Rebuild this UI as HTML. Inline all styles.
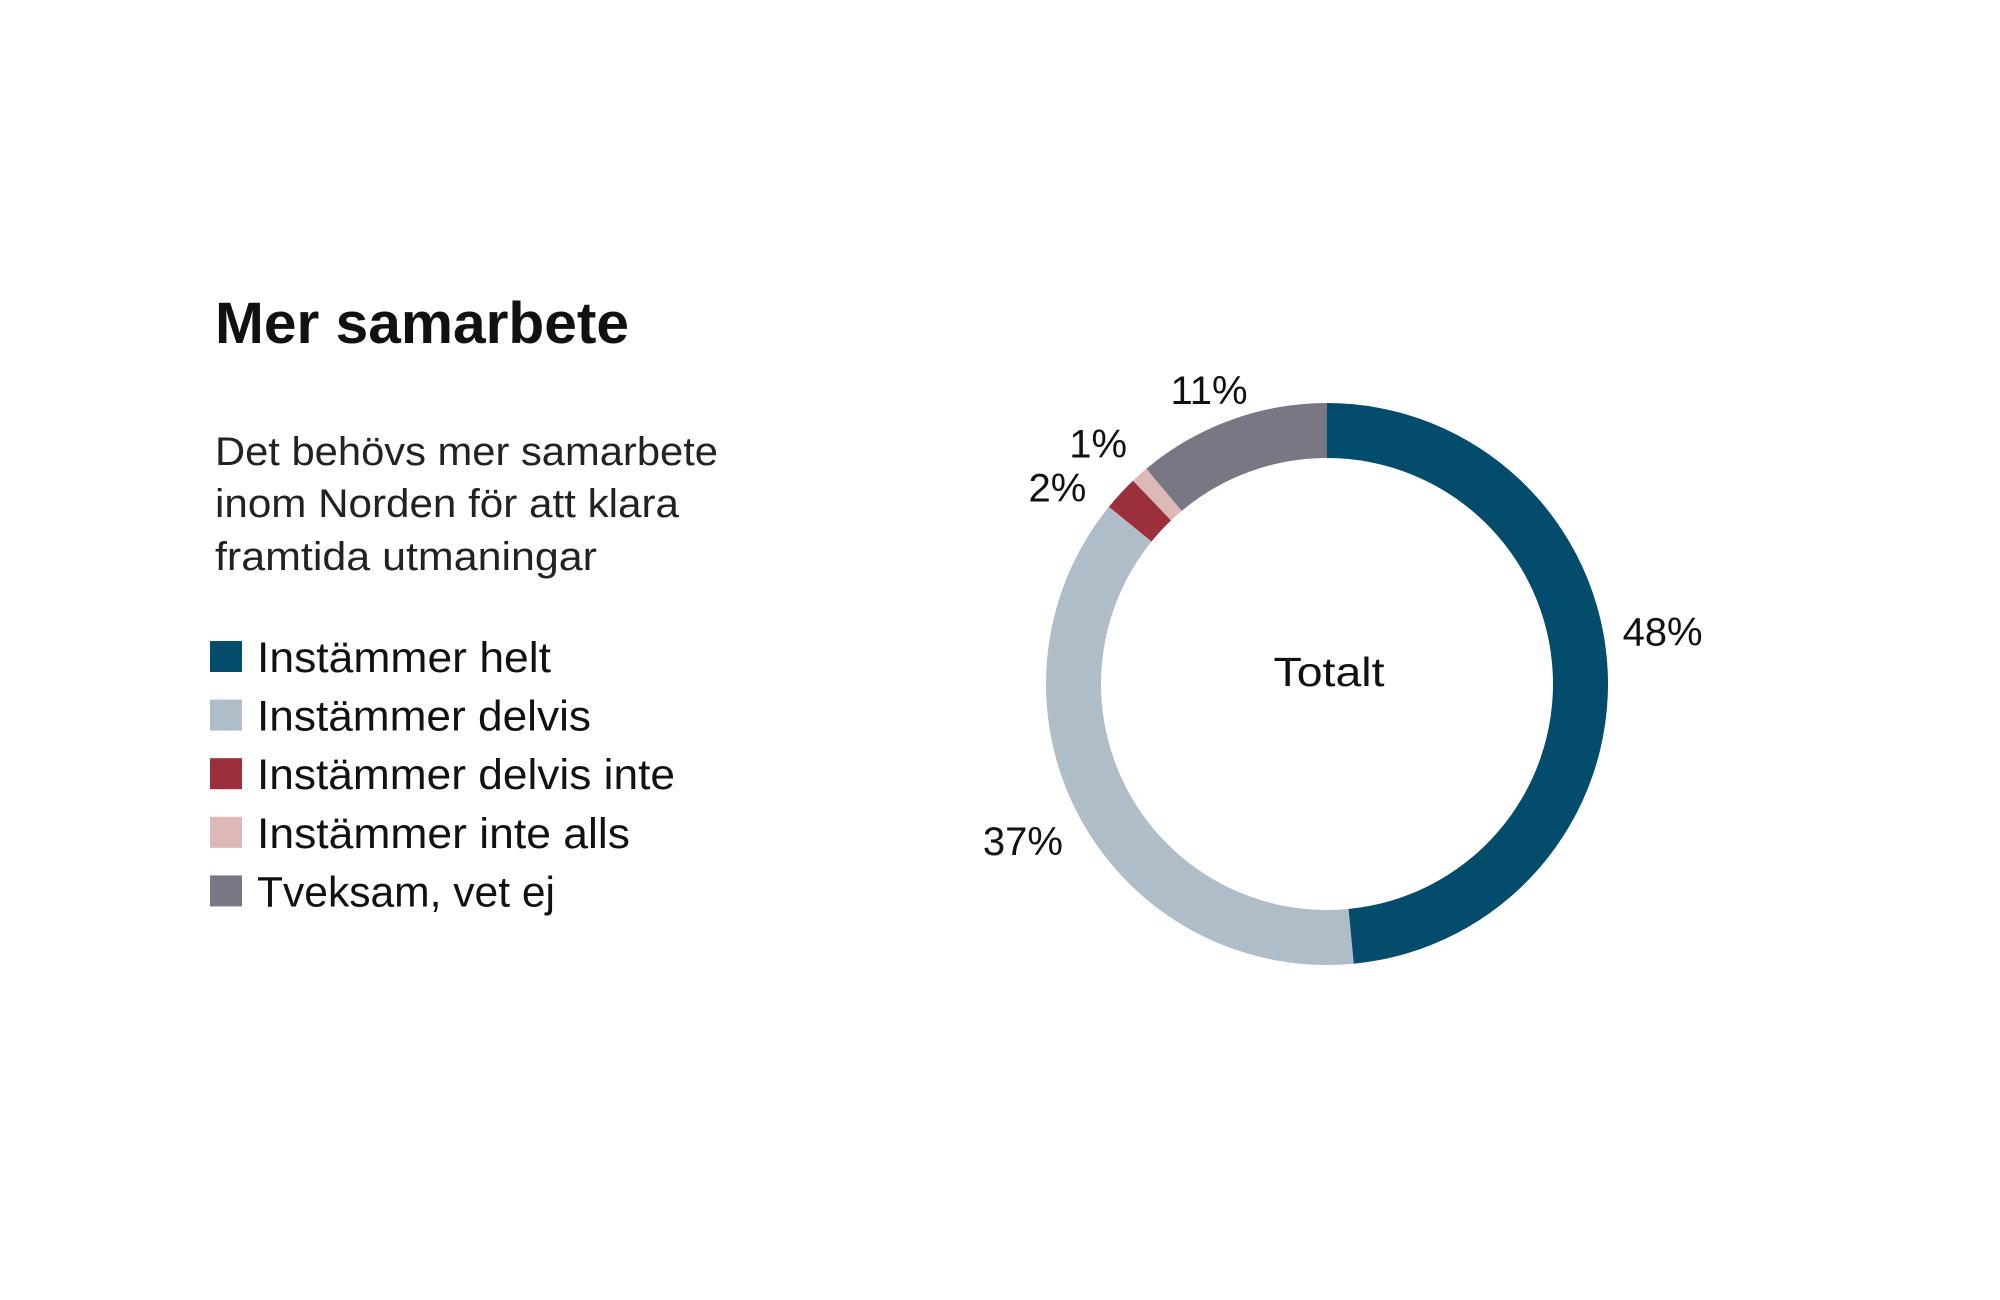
<!DOCTYPE html>
<html><head><meta charset="utf-8"><style>
html,body{margin:0;padding:0;background:#fff;}
svg{display:block;font-family:"Liberation Sans",sans-serif;}
</style></head><body>
<svg id="chart" width="2000" height="1300" viewBox="0 0 2000 1300">
<text x="215" y="343" font-size="58" font-weight="bold" fill="#111" textLength="414" lengthAdjust="spacingAndGlyphs">Mer samarbete</text>
<g font-size="40" fill="#222">
<text x="215" y="465" textLength="503" lengthAdjust="spacingAndGlyphs">Det behövs mer samarbete</text>
<text x="215" y="517" textLength="464" lengthAdjust="spacingAndGlyphs">inom Norden för att klara</text>
<text x="215" y="570" textLength="382" lengthAdjust="spacingAndGlyphs">framtida utmaningar</text>
</g>
<g id="legend"></g>
<g id="ring"></g>
<g id="labels"></g>
<text x="1329" y="686" font-size="41" fill="#111" text-anchor="middle" textLength="111" lengthAdjust="spacingAndGlyphs">Totalt</text>
</svg>
<script>
const categories = ["Instämmer helt","Instämmer delvis","Instämmer delvis inte","Instämmer inte alls","Tveksam, vet ej"];
const values = [48, 37, 2, 1, 11];
const valueLabels = ["48%","37%","2%","1%","11%"];
const colors = ["#034c6b","#afbdc9","#9b2f3c","#dcb8b6","#7a7785"];

const NS="http://www.w3.org/2000/svg";
const cx=1327, cy=684, rO=281, rI=226;
const total=values.reduce((a,b)=>a+b,0);
function pt(r,a){return [cx+r*Math.sin(a), cy-r*Math.cos(a)];}
const ring=document.getElementById('ring');
const labels=document.getElementById('labels');
const legendWidths=[294,334,418,373,298];
const nudgeX=[-9,0,-10,-24,0], nudgeY=[-36,-6,-1,18,30];
let acc=0;
values.forEach((v,i)=>{
  const a0=acc/total*2*Math.PI; acc+=v; const a1=acc/total*2*Math.PI;
  const large=(a1-a0)>Math.PI?1:0;
  const p0=pt(rO,a0),p1=pt(rO,a1),q1=pt(rI,a1),q0=pt(rI,a0);
  const d=`M${p0} A${rO},${rO} 0 ${large} 1 ${p1} L${q1} A${rI},${rI} 0 ${large} 0 ${q0} Z`;
  const path=document.createElementNS(NS,'path');
  path.setAttribute('d',d);path.setAttribute('fill',colors[i]);
  
  
  ring.appendChild(path);
  let am=(a0+a1)/2;
  let lr=345;
  if(v<3){ am += (v<2 ? 0.06 : -0.10); lr = (v<2 ? 330 : 325); }
  const lp=pt(lr,am);
  const t=document.createElementNS(NS,'text');
  t.setAttribute('x',lp[0]+nudgeX[i]);t.setAttribute('y',lp[1]+14+nudgeY[i]);
  t.setAttribute('text-anchor','middle');t.setAttribute('font-size','40');t.setAttribute('fill','#111');
  t.textContent=valueLabels[i];
  
  
  labels.appendChild(t);
});
const legend=document.getElementById('legend');
categories.forEach((c,i)=>{
  const y=641+i*58.6;
  const r=document.createElementNS(NS,'rect');
  r.setAttribute('x',210);r.setAttribute('y',y);r.setAttribute('width',32);r.setAttribute('height',31);r.setAttribute('fill',colors[i]);
  
  
  legend.appendChild(r);
  const t=document.createElementNS(NS,'text');
  t.setAttribute('x',257);t.setAttribute('y',y+31);t.setAttribute('font-size','43');t.setAttribute('fill','#111');
  t.setAttribute('textLength',legendWidths[i]);t.setAttribute('lengthAdjust','spacingAndGlyphs');
  t.textContent=c;
  
  
  legend.appendChild(t);
});
</script>
</body></html>
